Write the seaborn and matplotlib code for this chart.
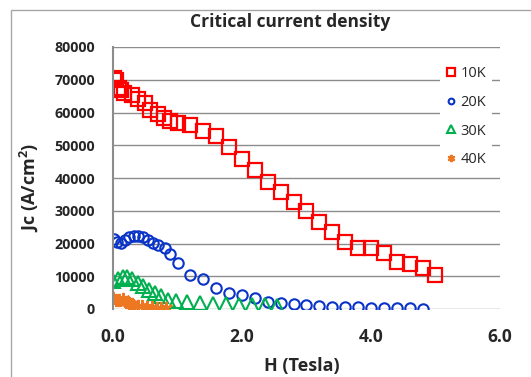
import matplotlib
matplotlib.use("Agg")
import matplotlib.pyplot as plt
import matplotlib.patches as mpatches
import seaborn as sns
import pandas as pd

# ---- data ----
H10 = [0.02, 0.05, 0.10, 0.13, 0.17, 0.29, 0.39, 0.50, 0.58, 0.69, 0.79, 0.89, 1.00,
       1.20, 1.40, 1.60, 1.80, 2.00, 2.20, 2.40, 2.60, 2.80, 3.00, 3.20, 3.40, 3.60,
       3.80, 4.00, 4.20, 4.40, 4.60, 4.80, 5.00]
J10 = [70500, 70000, 67500, 66800, 66000, 65200, 64200, 62800, 60800, 59600, 58200, 57300, 56800,
       56300, 54500, 52700, 49400, 45800, 42500, 38900, 35600, 32600, 29800, 26700, 23500, 20600,
       18700, 18700, 17000, 14200, 13700, 12400, 10400]

H20 = [0.01, 0.06, 0.12, 0.19, 0.25, 0.32, 0.39, 0.47, 0.55, 0.62, 0.70, 0.81, 0.89, 1.00,
       1.20, 1.40, 1.60, 1.80, 2.00, 2.20, 2.40, 2.60, 2.80, 3.00, 3.20, 3.40, 3.60, 3.80,
       4.00, 4.20, 4.40, 4.60, 4.80]
J20 = [21300, 20500, 20200, 21000, 21900, 22300, 22300, 21900, 21100, 20300, 19600, 18500, 16800, 14000,
       10300, 9200, 6300, 4800, 4300, 3500, 2200, 1900, 1500, 1200, 900, 700, 600, 500,
       400, 300, 250, 200, 100]

H30 = [0.00, 0.08, 0.16, 0.22, 0.29, 0.39, 0.47, 0.56, 0.65, 0.75, 0.86, 0.97,
       1.15, 1.35, 1.55, 1.75, 1.95, 2.15, 2.35, 2.55]
J30 = [8700, 9200, 9800, 9800, 9200, 8000, 7100, 5900, 4900, 3900, 2800, 2400,
       2000, 1800, 1600, 1400, 1300, 1200, 1100, 1000]

H40 = [0.00, 0.05, 0.10, 0.15, 0.20, 0.25, 0.30, 0.38, 0.45, 0.52, 0.60, 0.68, 0.75, 0.82]
J40 = [3500, 2800, 2600, 3000, 2200, 1800, 1500, 1000, 800, 600, 500, 400, 300, 200]

labels = ["10K", "20K", "30K", "40K"]
title = "Critical current density"
xlabel = "H (Tesla)"
ylabel = "Jc (A/cm$^\\mathregular{2}$)"
xticks = [0, 2, 4, 6]
yticks = [0, 10000, 20000, 30000, 40000, 50000, 60000, 70000, 80000]

# ---- style ----
sns.set_style("white")
plt.rcParams["font.family"] = ["Open Sans", "DejaVu Sans"]
plt.rcParams["mathtext.fontset"] = "custom"
plt.rcParams["mathtext.rm"] = "Open Sans:bold"

W, Hh = 531, 377
fig = plt.figure(figsize=(W / 100, Hh / 100), dpi=100)
ax = fig.add_axes([113 / W, 1 - 309 / Hh, (500 - 113) / W, (309 - 47) / Hh])

series = [
    (H10, J10, labels[0], "s", "#FF0000", 9.5, 1.6),
    (H20, J20, labels[1], "o", "#0A33C8", 7.5, 1.5),
    (H30, J30, labels[2], "^", "#00B050", 9.5, 1.5),
    (H40, J40, labels[3], (6, 2, 0), "#EE7722", 9.5, 1.6),
]
for xs, ys, lab, mk, col, ms, mew in series:
    df = pd.DataFrame({"H": xs, "Jc": ys})
    sns.lineplot(data=df, x="H", y="Jc", ax=ax, sort=False, estimator=None,
                 linestyle="", marker=mk, markersize=ms, markerfacecolor="none",
                 markeredgecolor=col, markeredgewidth=mew, color=col, label=lab)

ax.set_xlim(0, 6)
ax.set_ylim(0, 80000)
ax.set_xticks(xticks)
ax.set_xticklabels([f"{v:.1f}" for v in xticks])
ax.set_yticks(yticks)
ax.set_yticklabels([str(v) for v in yticks])
ax.yaxis.grid(True, color="#8C8C8C", linewidth=1.0)
ax.xaxis.grid(False)
ax.set_axisbelow(True)
for s in ["top", "right", "bottom"]:
    ax.spines[s].set_visible(False)
ax.spines["left"].set_color("#8C8C8C")
ax.spines["left"].set_linewidth(1.5)
ax.tick_params(axis="both", length=0)
ax.tick_params(axis="y", pad=13, labelsize=10.3)
ax.tick_params(axis="x", pad=14, labelsize=12.5)
for t in ax.get_xticklabels() + ax.get_yticklabels():
    t.set_fontweight("bold")
ax.set_xlabel("")
ax.set_ylabel("")

fig.text(290 / W, 1 - 22 / Hh, title, ha="center", va="center", fontsize=12.5, fontweight="bold")
fig.text(29 / W, 1 - 187 / Hh, ylabel, ha="center", va="center", rotation=90,
         fontsize=13, fontweight="bold")
fig.text(302 / W, 1 - 366 / Hh, xlabel, ha="center", va="center", fontsize=13, fontweight="bold")

leg = ax.legend(loc="upper left", bbox_to_anchor=(440 / W, 1 - 60 / Hh),
                bbox_transform=fig.transFigure, frameon=True, fancybox=False,
                facecolor="white", edgecolor="none", framealpha=1, fontsize=10.5,
                markerscale=0.55, handlelength=0.7, handletextpad=0.3,
                labelspacing=0.95, borderpad=0.4, borderaxespad=0)

fig.patches.append(mpatches.Rectangle((11 / W, -0.2), 1.2, 1.2 + (1 - 10 / Hh) - 1.0,
                                      transform=fig.transFigure, fill=False,
                                      edgecolor="#A6A6A6", linewidth=1.0, zorder=-1))

fig.savefig("out.png", dpi=100)
